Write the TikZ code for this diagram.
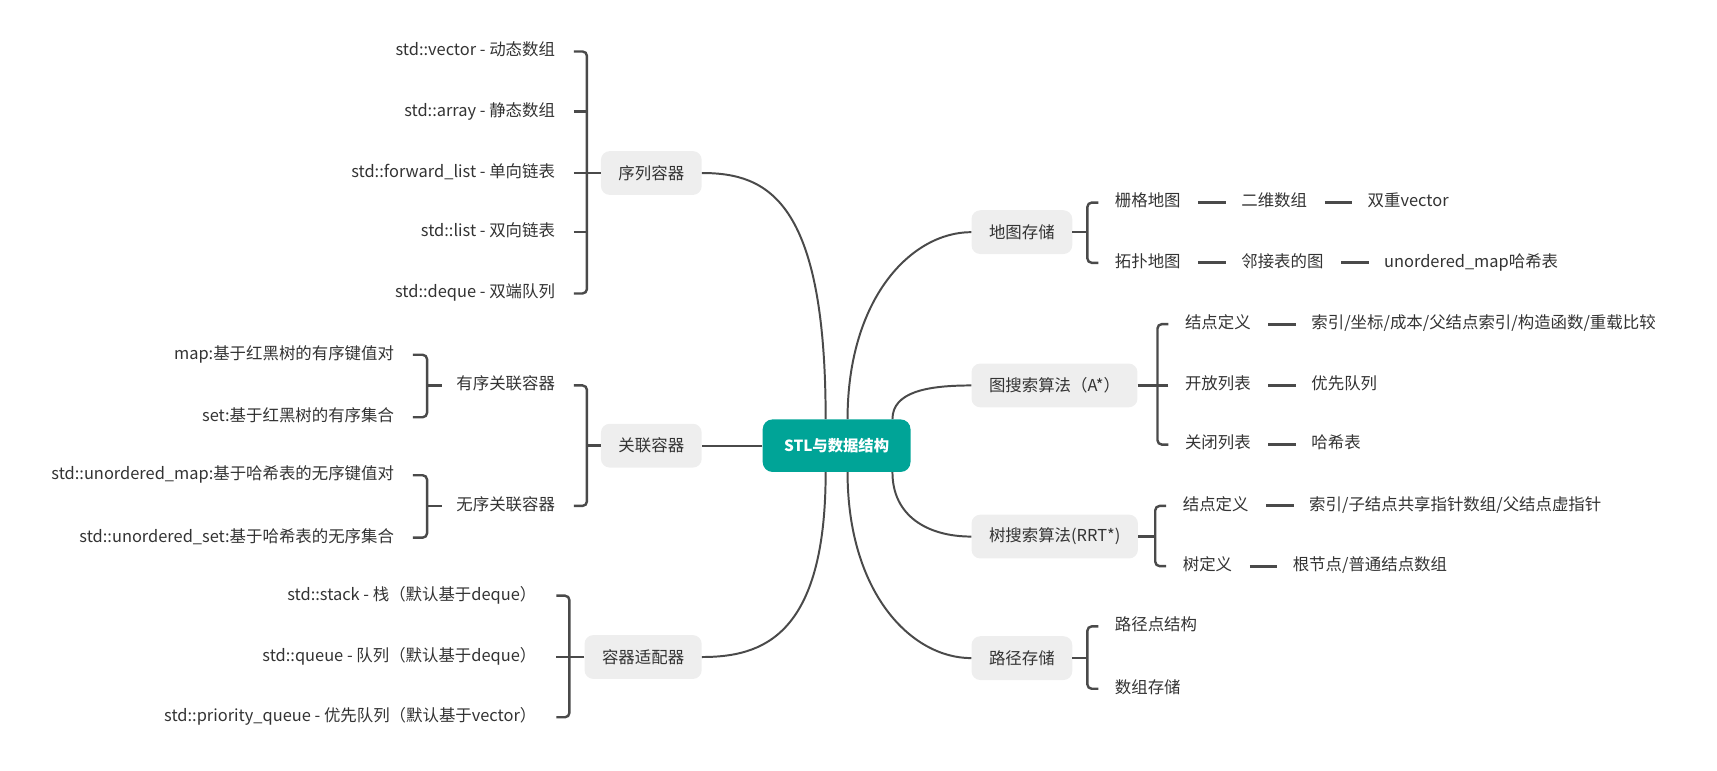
\documentclass[tikz,border=0pt]{standalone}
\usepackage{fontspec}
\setmainfont{Noto Sans CJK SC}
\usetikzlibrary{positioning}
\definecolor{rootteal}{RGB}{0,164,151}
\definecolor{topicgray}{RGB}{238,238,238}
\definecolor{inkgray}{RGB}{74,74,74}
\definecolor{textgray}{RGB}{51,51,51}
\tikzset{
  mmroot/.style={fill=rootteal, text=white, rounded corners=9pt, minimum width=135pt,
    minimum height=48pt, font=\fontsize{14}{16}\selectfont\bfseries},
  topic/.style={fill=topicgray, text=textgray, rounded corners=8pt, minimum height=40pt, inner xsep=16pt},
  leaf/.style={text=textgray, inner sep=0pt, text height=11pt, text depth=3pt},
  branch/.style={draw=inkgray, line width=1.8pt},
  brk/.style={draw=inkgray, line width=2.2pt, rounded corners=4pt},
  chainlink/.style={draw=inkgray, line width=2.6pt, shorten <=16pt, shorten >=14pt},
}
\begin{document}
\begin{tikzpicture}[x=1pt, y=-1pt, font=\fontsize{15}{18}\selectfont]
\useasboundingbox (0,0) rectangle (1568,704);
\node[mmroot] (stl) at (764,407) {STL与数据结构};
\node[topic, anchor=east] (seq) at (641,158) {序列容器};
\node[topic, anchor=east] (assoc) at (641,407) {关联容器};
\node[topic, anchor=east] (adapt) at (641,600) {容器适配器};
\node[topic, anchor=west] (mapstore) at (887,212) {地图存储};
\node[topic, anchor=west] (astar) at (887,352) {图搜索算法（A*）};
\node[topic, anchor=west] (rrt) at (887,490) {树搜索算法(RRT*)};
\node[topic, anchor=west] (path) at (887,601) {路径存储};
% main branches
\draw[branch] ([xshift=-10pt]stl.north) .. controls +(0,-200) and +(60,0) .. (seq.east);
\draw[branch] (stl.west) -- (assoc.east);
\draw[branch] ([xshift=-10pt]stl.south) .. controls +(0,150) and +(55,0) .. (adapt.east);
\draw[branch] ([xshift=10pt]stl.north) .. controls +(0,-110) and +(-55,0) .. (mapstore.west);
\draw[branch] ([xshift=51pt]stl.north) .. controls +(0,-25) and +(-40,0) .. (astar.west);
\draw[branch] ([xshift=51pt]stl.south) .. controls +(0,40) and +(-40,0) .. (rrt.west);
\draw[branch] ([xshift=10pt]stl.south) .. controls +(0,110) and +(-55,0) .. (path.west);
% sequence containers
\node[leaf, anchor=east] (vec) at (507,47) {std::vector - 动态数组};
\node[leaf, anchor=east] (arr) at (507,102) {std::array - 静态数组};
\node[leaf, anchor=east] (fwd) at (507,158) {std::forward\_list - 单向链表};
\node[leaf, anchor=east] (lst) at (507,212) {std::list - 双向链表};
\node[leaf, anchor=east] (deq) at (507,268) {std::deque - 双端队列};
\draw[brk] ([xshift=17pt]vec.east) -- ++(12,0) -- ([xshift=29pt]deq.east) -- ([xshift=17pt]deq.east);
\foreach \n in {arr,fwd,lst} \draw[brk] ([xshift=17pt]\n.east) -- ++(12,0);
\draw[brk] (seq.west) -- ([xshift=29pt]vec.east |- seq.west);
% associative containers
\node[leaf, anchor=east] (ord) at (507,352) {有序关联容器};
\node[leaf, anchor=east] (unord) at (507,462) {无序关联容器};
\draw[brk] ([xshift=17pt]ord.east) -- ++(12,0) -- ([xshift=29pt]unord.east) -- ([xshift=17pt]unord.east);
\draw[brk] (assoc.west) -- ([xshift=29pt]ord.east |- assoc.west);
\node[leaf, anchor=east] (rbmap) at (360,324) {map:基于红黑树的有序键值对};
\node[leaf, anchor=east] (rbset) at (360,381) {set:基于红黑树的有序集合};
\draw[brk] ([xshift=17pt]rbmap.east) -- ++(13,0) -- ([xshift=30pt]rbset.east) -- ([xshift=17pt]rbset.east);
\draw[brk] ([xshift=-13pt]ord.west) -- ([xshift=30pt]rbmap.east |- ord.west);
\node[leaf, anchor=east] (hmap) at (360,434) {std::unordered\_map:基于哈希表的无序键值对};
\node[leaf, anchor=east] (hset) at (360,491) {std::unordered\_set:基于哈希表的无序集合};
\draw[brk] ([xshift=17pt]hmap.east) -- ++(13,0) -- ([xshift=30pt]hset.east) -- ([xshift=17pt]hset.east);
\draw[brk] ([xshift=-13pt]unord.west) -- ([xshift=30pt]hmap.east |- unord.west);
% adapters
\node[leaf, anchor=east] (stk) at (490,544) {std::stack - 栈（默认基于deque）};
\node[leaf, anchor=east] (que) at (490,600) {std::queue - 队列（默认基于deque）};
\node[leaf, anchor=east] (pque) at (490,655) {std::priority\_queue - 优先队列（默认基于vector）};
\draw[brk] ([xshift=18pt]stk.east) -- ++(12,0) -- ([xshift=30pt]pque.east) -- ([xshift=18pt]pque.east);
\draw[brk] ([xshift=18pt]que.east) -- ++(12,0);
\draw[brk] (adapt.west) -- ([xshift=30pt]stk.east |- adapt.west);
% map storage
\node[leaf, anchor=west] (grid) at (1018,185) {栅格地图};
\node[leaf, right=55pt of grid] (arr2d) {二维数组};
\node[leaf, right=55pt of arr2d] (dvec) {双重vector};
\node[leaf, anchor=west] (topo) at (1018,240) {拓扑地图};
\node[leaf, right=55pt of topo] (adj) {邻接表的图};
\node[leaf, right=55pt of adj] (umap) {unordered\_map哈希表};
\draw[chainlink] (grid) -- (arr2d);
\draw[chainlink] (arr2d) -- (dvec);
\draw[chainlink] (topo) -- (adj);
\draw[chainlink] (adj) -- (umap);
\draw[brk] ([xshift=-15pt]grid.west) -- ++(-10,0) -- ([xshift=-25pt]topo.west) -- ([xshift=-15pt]topo.west);
\draw[brk] (mapstore.east) -- ([xshift=-25pt]grid.west |- mapstore.east);
% A* search
\node[leaf, anchor=west] (anode) at (1082,296) {结点定义};
\node[leaf, right=55pt of anode] (afields) {索引/坐标/成本/父结点索引/构造函数/重载比较};
\node[leaf, anchor=west] (open) at (1082,352) {开放列表};
\node[leaf, right=55pt of open] (pq) {优先队列};
\node[leaf, anchor=west] (closed) at (1082,406) {关闭列表};
\node[leaf, right=55pt of closed] (hash) {哈希表};
\draw[chainlink] (anode) -- (afields);
\draw[chainlink] (open) -- (pq);
\draw[chainlink] (closed) -- (hash);
\draw[brk] ([xshift=-15pt]anode.west) -- ++(-10,0) -- ([xshift=-25pt]closed.west) -- ([xshift=-15pt]closed.west);
\draw[brk] ([xshift=-15pt]open.west) -- ++(-10,0);
\draw[brk] (astar.east) -- ([xshift=-25pt]anode.west |- astar.east);
% RRT* search
\node[leaf, anchor=west] (tnode) at (1080,462) {结点定义};
\node[leaf, right=55pt of tnode] (tfields) {索引/子结点共享指针数组/父结点虚指针};
\node[leaf, anchor=west] (tree) at (1080,517) {树定义};
\node[leaf, right=55pt of tree] (tarr) {根节点/普通结点数组};
\draw[chainlink] (tnode) -- (tfields);
\draw[chainlink] (tree) -- (tarr);
\draw[brk] ([xshift=-15pt]tnode.west) -- ++(-10,0) -- ([xshift=-25pt]tree.west) -- ([xshift=-15pt]tree.west);
\draw[brk] (rrt.east) -- ([xshift=-25pt]tnode.west |- rrt.east);
% path storage
\node[leaf, anchor=west] (wpt) at (1018,572) {路径点结构};
\node[leaf, anchor=west] (vecstore) at (1018,629) {数组存储};
\draw[brk] ([xshift=-15pt]wpt.west) -- ++(-10,0) -- ([xshift=-25pt]vecstore.west) -- ([xshift=-15pt]vecstore.west);
\draw[brk] (path.east) -- ([xshift=-25pt]wpt.west |- path.east);
\end{tikzpicture}
\end{document}
